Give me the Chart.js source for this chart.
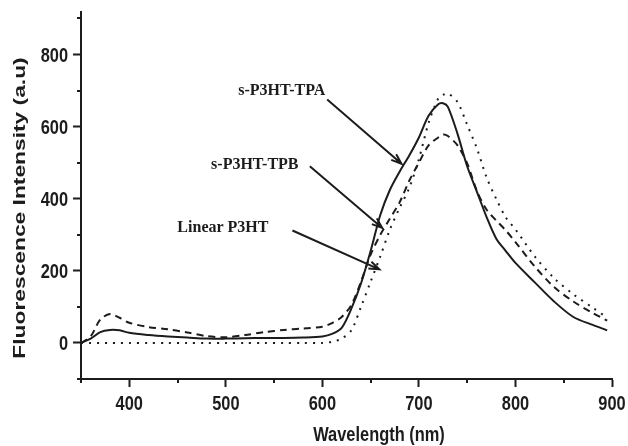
<!DOCTYPE html>
<html>
<head>
<meta charset="utf-8">
<script src="https://cdn.jsdelivr.net/npm/chart.js@4.4.1/dist/chart.umd.min.js"></script>
<style>
  html, body { margin: 0; padding: 0; background: #fff; }
  #wrap { width: 628px; height: 446px; position: relative; }
</style>
</head>
<body>
<div id="wrap"><canvas id="spectra"></canvas></div>
<script>
// emission spectra (nm -> a.u.)
const wavelengths = [350, 360, 370, 380, 390, 400, 420, 440, 460, 480, 500, 520, 540, 560, 580, 600,
  610, 620, 630, 640, 650, 660, 670, 680, 690, 700, 710, 720, 725, 730, 740, 750, 760, 770, 780,
  790, 800, 820, 840, 860, 880, 895];
const tpaIntensity = [0, 12, 30, 36, 35, 28, 22, 18, 15, 12, 12, 13, 14, 14, 15, 18,
  25, 42, 95, 165, 255, 355, 425, 475, 520, 570, 630, 662, 665, 655, 580, 490, 420, 350, 290,
  255, 222, 168, 115, 72, 50, 35];
const tpbIntensity = [0, 18, 65, 80, 70, 56, 44, 38, 29, 19, 16, 22, 30, 36, 40, 45,
  55, 72, 105, 170, 245, 300, 345, 390, 450, 500, 548, 570, 578, 574, 548, 498, 422, 370, 340,
  312, 280, 212, 155, 115, 83, 62];
const linearIntensity = [0, 0, 0, 0, 0, 0, 0, 0, 0, 0, 0, 0, 0, 0, 0, 0,
  3, 12, 35, 100, 170, 240, 315, 375, 430, 510, 610, 678, 688, 692, 668, 605, 540, 460, 400,
  348, 315, 240, 180, 135, 98, 70];

const xTicks = [400, 500, 600, 700, 800, 900];
const xMinorTicks = [350, 450, 550, 650, 750, 850];
const yTicks = [0, 200, 400, 600, 800];
const yMinorTicks = [-100, 100, 300, 500, 700, 900];

// text labels with arrows, in data units: text baseline, arrow tail, arrow head
const callouts = [
  { text: 's-P3HT-TPA', at: [558, 687], from: [605, 675], to: [682, 497] },
  { text: 's-P3HT-TPB', at: [530, 483], from: [587, 490], to: [662, 319] },
  { text: 'Linear P3HT', at: [497, 307], from: [569, 312], to: [659, 204] }
];

const INK = '#1c1c1c';
const SANS = '"Liberation Sans", Arial, sans-serif';

const pairs = values => wavelengths.map((w, i) => ({ x: w, y: values[i] }));

// no Arial Narrow here, so squeeze Liberation Sans Bold by hand
function squeezed(ctx, str, px, py, align, sx, sy) {
  ctx.save();
  ctx.translate(px, py);
  ctx.scale(sx, sy);
  ctx.textAlign = align;
  ctx.fillText(str, 0, 0);
  ctx.restore();
}

const decorations = {
  id: 'decorations',
  afterDraw(chart) {
    const { ctx, chartArea, scales: { x, y } } = chart;
    ctx.save();
    ctx.strokeStyle = INK;
    ctx.fillStyle = INK;
    ctx.lineWidth = 2;

    // minor ticks
    ctx.beginPath();
    xMinorTicks.forEach(v => {
      const px = Math.round(x.getPixelForValue(v));
      ctx.moveTo(px, chartArea.bottom);
      ctx.lineTo(px, chartArea.bottom + 4);
    });
    yMinorTicks.forEach(v => {
      const py = Math.round(y.getPixelForValue(v));
      ctx.moveTo(chartArea.left - 4, py);
      ctx.lineTo(chartArea.left, py);
    });
    ctx.stroke();

    // tick labels
    ctx.font = 'bold 20px ' + SANS;
    ctx.textBaseline = 'alphabetic';
    x.ticks.forEach(t => squeezed(ctx, String(t.value), x.getPixelForValue(t.value), chartArea.bottom + 31, 'center', 0.82, 1));
    y.ticks.forEach(t => squeezed(ctx, String(t.value), chartArea.left - 13, y.getPixelForValue(t.value) + 7, 'right', 0.82, 1));

    // axis titles
    squeezed(ctx, 'Wavelength (nm)', 379, 441, 'center', 0.82, 1);
    ctx.font = 'bold 17px ' + SANS;
    ctx.save();
    ctx.translate(25, 208);
    ctx.rotate(-Math.PI / 2);
    squeezed(ctx, 'Fluorescence Intensity (a.u)', 0, 0, 'center', 1.34, 1);
    ctx.restore();

    // callouts
    ctx.font = 'bold 16px "Liberation Serif", "Times New Roman", serif';
    ctx.textAlign = 'center';
    callouts.forEach(c => {
      ctx.fillText(c.text, x.getPixelForValue(c.at[0]), y.getPixelForValue(c.at[1]));
      const x0 = x.getPixelForValue(c.from[0]), y0 = y.getPixelForValue(c.from[1]);
      const x1 = x.getPixelForValue(c.to[0]), y1 = y.getPixelForValue(c.to[1]);
      const a = Math.atan2(y1 - y0, x1 - x0);
      ctx.beginPath();
      ctx.moveTo(x0, y0);
      ctx.lineTo(x1, y1);
      ctx.moveTo(x1 - 11 * Math.cos(a - 0.35), y1 - 11 * Math.sin(a - 0.35));
      ctx.lineTo(x1, y1);
      ctx.lineTo(x1 - 11 * Math.cos(a + 0.35), y1 - 11 * Math.sin(a + 0.35));
      ctx.stroke();
    });
    ctx.restore();
  }
};

new Chart(document.getElementById('spectra'), {
  type: 'line',
  data: {
    datasets: [
      { label: 's-P3HT-TPA', data: pairs(tpaIntensity), borderDash: [] },
      { label: 's-P3HT-TPB', data: pairs(tpbIntensity), borderDash: [7, 5] },
      { label: 'Linear P3HT', data: pairs(linearIntensity), borderDash: [2, 6] }
    ]
  },
  options: {
    responsive: true,
    maintainAspectRatio: false,
    animation: false,
    layout: { padding: { top: 12, right: 16, left: 0, bottom: 0 } },
    elements: {
      point: { radius: 0 },
      line: { borderColor: INK, borderWidth: 2, tension: 0.3, fill: false }
    },
    plugins: {
      legend: { display: false },
      tooltip: { enabled: false }
    },
    scales: {
      x: {
        type: 'linear',
        min: 350,
        max: 900,
        afterFit: s => { s.height = 67; },
        afterBuildTicks: s => { s.ticks = xTicks.map(v => ({ value: v })); },
        grid: { drawOnChartArea: false, drawTicks: true, tickLength: 8, tickColor: INK, tickWidth: 2 },
        border: { display: true, color: INK, width: 2 },
        ticks: { display: false }
      },
      y: {
        min: -100,
        max: 918,
        afterFit: s => { s.width = 81; },
        afterBuildTicks: s => { s.ticks = yTicks.map(v => ({ value: v })); },
        grid: { drawOnChartArea: false, drawTicks: true, tickLength: 8, tickColor: INK, tickWidth: 2 },
        border: { display: true, color: INK, width: 2 },
        ticks: { display: false }
      }
    }
  },
  plugins: [decorations]
});
</script>
</body>
</html>
